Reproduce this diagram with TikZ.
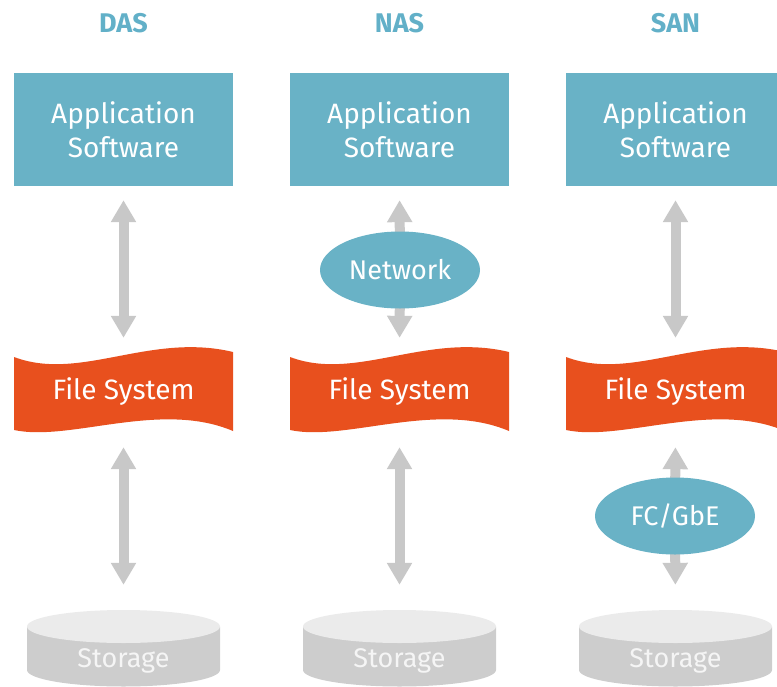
\documentclass[tikz,border=0pt]{standalone}
\usepackage{fontspec}
\setmainfont{Fira Sans}
\usetikzlibrary{arrows.meta,shapes.geometric,backgrounds}

\definecolor{boxteal}{HTML}{69B2C6}
\definecolor{titleteal}{HTML}{62B0C8}
\definecolor{fsorange}{HTML}{E8501E}
\definecolor{arrowgray}{HTML}{C8C8C8}
\definecolor{disktop}{HTML}{EBEBEB}
\definecolor{diskside}{HTML}{CDCDCD}

\tikzset{
  coltitle/.style={text=titleteal, font=\bfseries\fontsize{27}{32}\selectfont, inner sep=0},
  appbox/.style={fill=boxteal, minimum width=219, minimum height=113, inner sep=0,
    text=white, align=center, font=\fontsize{28}{34}\selectfont},
  fslabel/.style={minimum width=219, minimum height=84, inner sep=0, text=white,
    font=\fontsize{28}{32}\selectfont},
  link/.style={ellipse, fill=boxteal, minimum width=160, minimum height=77, inner sep=0,
    text=white, font=\fontsize{27}{32}\selectfont},
  disk/.style={minimum width=193, minimum height=33, inner sep=0},
  disklabel/.style={text=white!96!black, font=\fontsize{27}{32}\selectfont, inner sep=0},
  twoway/.style={line width=10pt, draw=arrowgray,
    {Triangle[width=24pt,length=22pt]}-{Triangle[width=24pt,length=22pt]}},
  oneway/.style={line width=10pt, draw=arrowgray, -{Triangle[width=24pt,length=22pt]}},
}

\begin{document}
\begin{tikzpicture}[x=1pt, y=-1pt]
  \useasboundingbox (0,0) rectangle (777,686);
  \clip (0,0) rectangle (777,686);

  \foreach \n/\t/\dx in {das/DAS/0, nas/NAS/276, san/SAN/552} {
    \begin{scope}[shift={(\dx,0)}]
      % column heading and application layer
      \node[coltitle] (\n Title) at (123.5,23) {\t};
      \node[appbox] (\n App) at (123.5,129.5) {Application\\Software};
      % waving file-system banner
      \fill[fsorange] (14,357) .. controls (80,382) and (150,332) .. (233,352)
        -- (233,431) .. controls (160,400) and (70,442) .. (14,430) -- cycle;
      \node[fslabel] (\n FS) at (123.5,392) {File System};
      % storage cylinder: side wall, then top face
      \fill[diskside] (27,626.5) -- (27,670) arc[start angle=180, end angle=0,
        x radius=96.5, y radius=16.5] -- (220,626.5) -- cycle;
      \fill[disktop] (123.5,626.5) ellipse[x radius=96.5, y radius=16.5];
      \node[disk] (\n Disk) at (123.5,626.5) {};
      \node[disklabel] (\n DiskLabel) at (123.5,661) {Storage};
    \end{scope}
  }

  % interconnect ellipses
  \node[link] (nasNet) at (400,270) {Network};
  \node[link] (sanLink) at (675,516) {FC/GbE};

  \begin{scope}[on background layer]
    % DAS
    \draw[twoway, shorten <=14pt, shorten >=12pt] (dasApp.south) -- (dasFS.north);
    \draw[twoway, shorten <=13pt, shorten >=25pt] (dasFS.south) -- (dasDisk.north);
    % NAS
    \draw[oneway, shorten >=14pt] (nasNet.center) -- (nasApp.south);
    \draw[oneway, shorten >=12pt] (nasNet.center) -- (nasFS.north);
    \draw[twoway, shorten <=13pt, shorten >=25pt] (nasFS.south) -- (nasDisk.north);
    % SAN
    \draw[twoway, shorten <=14pt, shorten >=12pt] (sanApp.south) -- (sanFS.north);
    \draw[oneway, shorten >=13pt] (sanLink.center) -- (sanFS.south);
    \draw[oneway, shorten >=25pt] (sanLink.center) -- (sanDisk.north);
  \end{scope}
\end{tikzpicture}
\end{document}
